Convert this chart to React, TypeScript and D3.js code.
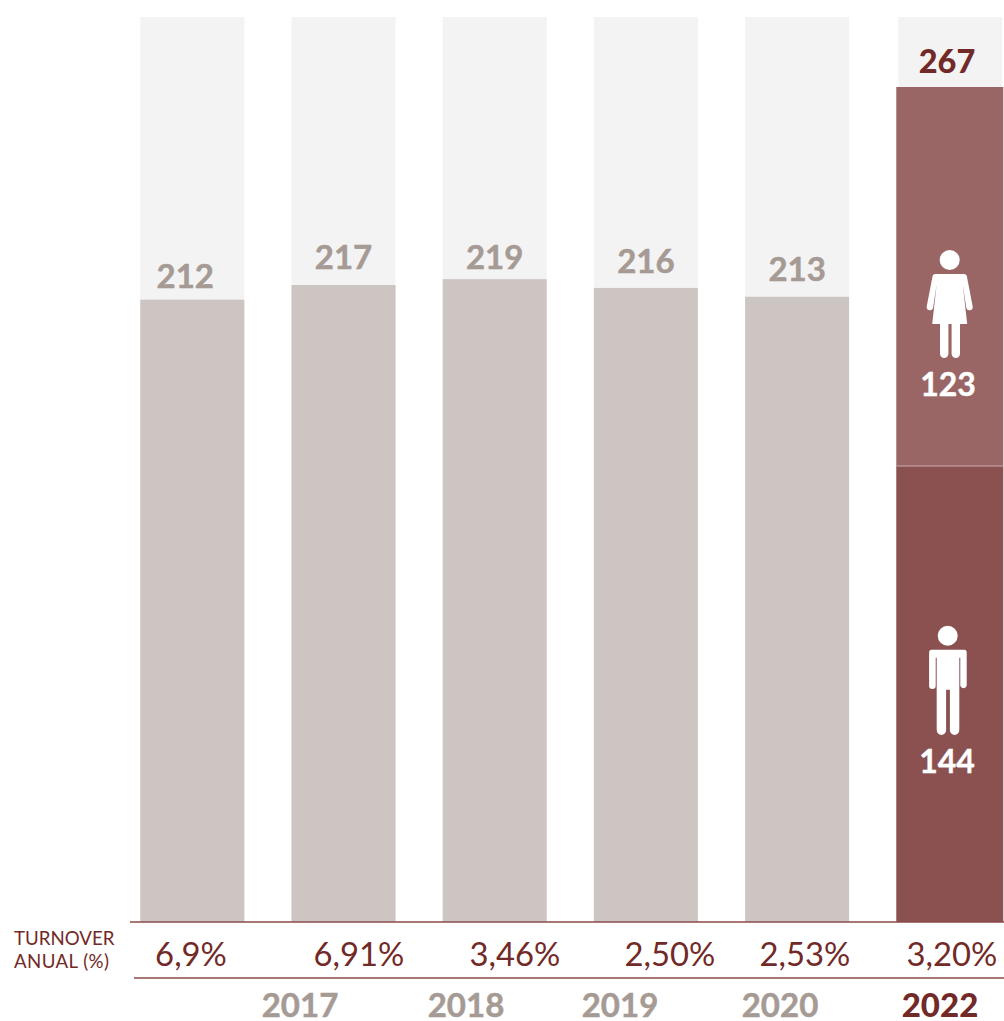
import React from "react";
import * as d3 from "d3";

// Years behind each bar: the first bar has no year label in the source
const barKeys = ["2016", "2017", "2018", "2019", "2020", "2022"];
const yearLabels = ["", "2017", "2018", "2019", "2020", "2022"];
const totals = [212, 217, 219, 216, 213, 267];
const turnover = ["6,9%", "6,91%", "3,46%", "2,50%", "2,53%", "3,20%"];
const men2022 = 144;
const women2022 = 123;

const FONT = "Lato, 'Open Sans', sans-serif";
const DARK = "#722a28";
const GREY = "#a59a94";

// Hand tuned, the labels are not centred on the bars in the source
const valueLabelGap = [12, 16, 10, 15, 16, 14];
const valueLabelShift = [-7, 0, 0, 0, 0, 0];
const turnoverCenters = [191, 359, 515, 670, 805, 952];
const yearCenters = [0, 300, 466, 620, 780, 940];

function Woman({ x, y }: { x: number; y: number }) {
  return (
    <g transform={`translate(${x},${y})`} fill="#fff" stroke="none">
      <circle r={10} />
      <path d="M-14,14H14Q17,14 17.3,17L23,46.5A3.3,3.3 0 0 1 16.6,48L13,24L17.5,64H-17.5L-13,24L-16.6,48A3.3,3.3 0 0 1 -23,46.5L-17.3,17Q-17,14 -14,14Z" />
      <rect x={-9.7} y={60} width={8.4} height={38} rx={4.2} />
      <rect x={1.9} y={60} width={8.4} height={38} rx={4.2} />
    </g>
  );
}

function Man({ x, y }: { x: number; y: number }) {
  return (
    <g transform={`translate(${x},${y})`} fill="#fff" stroke="none">
      <circle r={10} />
      <path d="M-16.5,14H16.5Q19,14 19,16.5V50A3.3,3.3 0 0 1 12.6,50V22H11.6V94.5A4.6,4.6 0 0 1 2.2,94.5V54H-1.6V94.5A4.6,4.6 0 0 1 -11,94.5V22H-12V50A3.3,3.3 0 0 1 -18.6,50V16.5Q-18.6,14 -16.5,14Z" />
    </g>
  );
}

export default function App() {
  const baseY = 922;

  const x = d3
    .scaleBand<string>()
    .domain(barKeys)
    .range([140.3, 1000.3])
    .paddingInner(0.312)
    .paddingOuter(0);

  // Grey bars share one scale, the last column is not on the same one in the source
  const y = d3.scaleLinear().domain([0, 308.3]).range([baseY, 17]);
  const y2022 = d3
    .scaleLinear()
    .domain([0, men2022, men2022 + women2022])
    .range([baseY, 466, 87]);

  const last = barKeys.length - 1;
  const bw = x.bandwidth();

  return (
    <svg
      width={1004}
      height={1021}
      viewBox="0 0 1004 1021"
      style={{ position: "absolute", left: 0, top: 0, fontFamily: FONT }}
    >
      {/* background columns */}
      {barKeys.map((k) => (
        <rect key={k} x={x(k)! + (k === "2022" ? 2 : 0)} y={17} width={bw} height={baseY - 17} fill="#f3f3f3" />
      ))}

      {/* past years */}
      {barKeys.slice(0, last).map((k, i) => (
        <g key={k}>
          <rect x={x(k)} y={y(totals[i])} width={bw} height={baseY - y(totals[i])} fill="#cdc5c2" />
          <text
            x={x(k)! + bw / 2 + valueLabelShift[i]}
            y={y(totals[i]) - valueLabelGap[i]}
            textAnchor="middle"
            fontSize={33}
            fontWeight={700}
            stroke={GREY}
            strokeWidth={0.5}
            fill={GREY}
          >
            {totals[i]}
          </text>
        </g>
      ))}

      {/* 2022 split by gender */}
      <rect x={x("2022")} y={y2022(men2022)} width={107} height={baseY - y2022(men2022)} fill="#8a5150" />
      <rect
        x={x("2022")}
        y={y2022(men2022 + women2022)}
        width={107}
        height={y2022(men2022) - y2022(men2022 + women2022)}
        fill="#9a6665"
      />
      <line x1={x("2022")} x2={x("2022")! + 107} y1={y2022(men2022)} y2={y2022(men2022)} stroke="#c9aead" strokeWidth={1} />
      <text x={947} y={y2022(men2022 + women2022) - valueLabelGap[last]} textAnchor="middle" fontSize={32.5} fontWeight={900} fill={DARK}>
        {totals[last]}
      </text>
      <Woman x={949.7} y={260} />
      <text x={948} y={396} textAnchor="middle" fontSize={32} fontWeight={700} stroke="#fff" strokeWidth={0.4} fill="#fff">
        {women2022}
      </text>
      <Man x={947.7} y={635.7} />
      <text x={947} y={773} textAnchor="middle" fontSize={32} fontWeight={700} stroke="#fff" strokeWidth={0.4} fill="#fff">
        {men2022}
      </text>

      {/* turnover table */}
      <line x1={130} x2={1004} y1={922} y2={922} stroke="#8a4a48" strokeWidth={1.3} />
      <line x1={134} x2={1004} y1={978} y2={978} stroke="#8a4a48" strokeWidth={1.3} />
      <text x={14} y={945} fontSize={18.7} fill={DARK}>TURNOVER</text>
      <text x={14} y={968} fontSize={18.7} letterSpacing={0.4} fill={DARK}>ANUAL (%)</text>
      {turnover.map((t, i) => (
        <text key={i} x={turnoverCenters[i]} y={966} textAnchor="middle" fontSize={32.8} fontWeight={400} fill={DARK}>
          {t}
        </text>
      ))}
      {yearLabels.map((l, i) =>
        l ? (
          <text
            key={l}
            x={yearCenters[i]}
            y={1017}
            textAnchor="middle"
            fontSize={33}
            fontWeight={i === last ? 900 : 700}
            stroke={i === last ? "none" : GREY}
            strokeWidth={0.5}
            fill={i === last ? DARK : GREY}
          >
            {l}
          </text>
        ) : null
      )}
    </svg>
  );
}
